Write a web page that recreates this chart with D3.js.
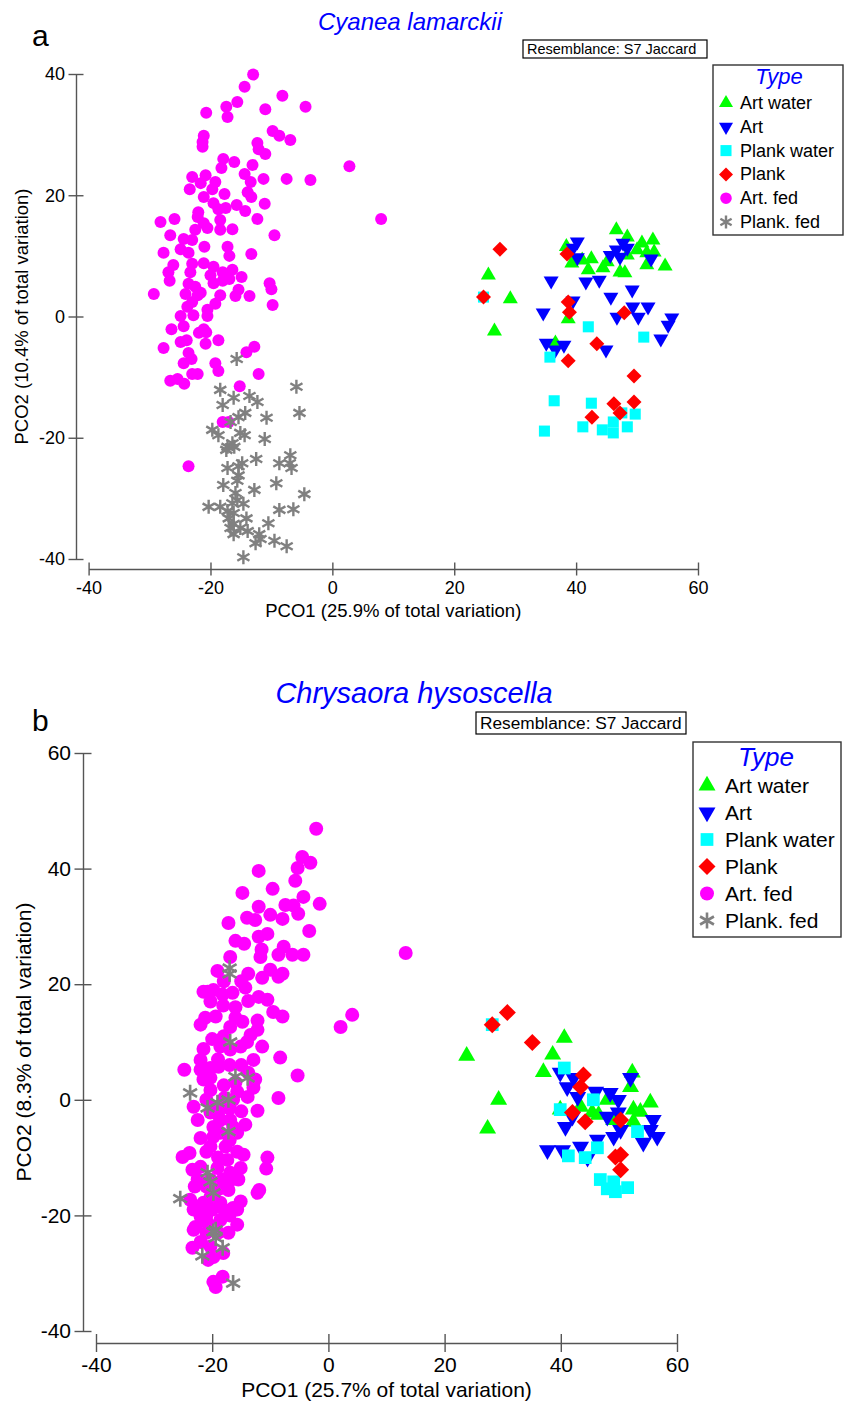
<!DOCTYPE html>
<html>
<head>
<meta charset="utf-8">
<script src="https://cdn.jsdelivr.net/npm/d3@7"></script>
<style>
  body { margin: 0; background: #fff; }
  svg text { font-family: "Liberation Sans", Arial, sans-serif; }
</style>
</head>
<body>
<svg id="chart" width="848" height="1402"></svg>
<script>
var types = ['Art water', 'Art', 'Plank water', 'Plank', 'Art. fed', 'Plank. fed']
var typeColors = ['#00ff00', '#0000ff', '#00ffff', '#ff0000', '#ff00ff', '#808080']
var typeShapes = ['triUp', 'triDown', 'square', 'diamond', 'circle', 'star']
var xTicks = [-40, -20, 0, 20, 40, 60]
var yTicksA = [-40, -20, 0, 20, 40]
var yTicksB = [-40, -20, 0, 20, 40, 60]

// panel a: Cyanea lamarckii, [PCO1, PCO2]
var cyArtWater = [[46.6,14.3],[48.4,13.1],[50.8,12.1],[52.6,12.6],[50.0,11.0],[51.6,10.5],[38.4,11.5],[39.3,8.8],[41.0,9.3],[42.5,9.5],[42.0,7.7],[44.4,8.0],[45.1,9.0],[47.2,7.3],[48.0,7.2],[51.6,8.5],[54.6,8.3],[52.8,10.6],[48.4,10.1],[25.6,6.8],[29.2,2.9],[26.6,-2.4],[38.7,-0.4],[36.6,-4.4]]
var cyArt = [[40.2,12.3],[39.5,11.3],[40.2,9.7],[45.6,10.1],[47.2,9.8],[47.7,12.1],[48.4,11.3],[46.6,11.0],[52.3,9.5],[35.9,5.9],[41.6,5.7],[43.8,6.0],[49.2,4.4],[45.7,3.2],[39.5,2.6],[34.6,0.6],[49.3,1.6],[51.8,1.6],[46.7,-0.1],[50.2,-0.1],[55.7,-0.2],[55.1,-1.4],[53.9,-3.7],[35.1,-4.4],[38.0,-4.7],[36.6,-5.5],[44.9,-5.5]]
var cyPlankWater = [[24.8,3.2],[42.0,-1.7],[51.1,-3.4],[35.7,-6.7],[36.4,-13.9],[42.5,-14.3],[34.8,-18.9],[41.1,-18.2],[44.3,-18.7],[46.1,-19.2],[46.1,-17.4],[48.4,-18.2],[49.7,-16.1],[47.5,-15.9]]
var cyPlank = [[27.5,11.1],[24.8,3.2],[38.5,10.3],[38.7,2.4],[38.9,0.7],[47.9,0.6],[43.4,-4.5],[38.7,-7.3],[49.5,-9.8],[46.2,-14.4],[49.5,-14.1],[47.2,-15.9],[42.6,-16.6]]
var cyArtFed = [[-13.0,39.9],[-14.4,37.9],[-8.2,36.4],[-15.6,35.4],[-17.4,34.6],[-17.2,32.9],[-20.7,33.6],[-11.0,34.2],[-4.4,34.6],[-9.8,30.6],[-8.7,29.8],[-6.9,29.1],[-21.1,29.8],[-21.3,28.8],[-21.3,28.0],[-12.3,28.6],[-12.1,27.6],[-11.0,26.8],[-17.9,26.0],[-16.1,25.5],[-18.2,24.5],[-13.1,25.0],[-14.4,23.5],[2.8,24.8],[-11.3,22.7],[-7.5,22.7],[-3.6,22.5],[-23.0,23.0],[-20.8,23.3],[-19.2,22.2],[-19.7,21.0],[-23.4,21.0],[-21.6,22.0],[-13.4,22.2],[-13.9,20.5],[-13.3,19.7],[-17.7,20.2],[-21.1,19.7],[-19.5,18.7],[-15.7,18.4],[-11.1,18.6],[-14.3,17.4],[-18.7,17.7],[-17.5,17.9],[-22.0,17.2],[-22.1,16.4],[-18.4,15.9],[-12.3,16.1],[8.0,16.1],[-28.2,15.6],[-25.9,16.1],[-21.1,15.4],[-20.5,14.6],[-22.5,14.3],[-18.4,14.3],[-16.4,14.4],[-26.6,13.4],[-9.5,13.4],[-24.4,12.8],[-23.0,12.6],[-21.0,11.5],[-17.2,11.5],[-24.9,11.1],[-23.6,10.5],[-27.7,10.5],[-16.9,10.0],[-13.3,10.3],[-23.0,8.7],[-21.1,8.8],[-19.5,8.2],[-26.1,8.5],[-26.9,7.3],[-26.7,5.9],[-23.3,7.3],[-20.0,6.8],[-18.0,7.3],[-16.4,7.7],[-14.9,6.5],[-19.5,5.5],[-18.0,5.9],[-16.9,6.2],[-23.6,5.4],[-22.5,4.9],[-21.6,3.9],[-15.4,4.4],[-15.9,3.4],[-13.6,3.4],[-10.3,5.5],[-10.0,4.5],[-9.8,1.9],[-29.3,3.7],[-24.1,3.7],[-22.1,3.5],[-18.4,3.5],[-23.0,2.4],[-19.2,2.1],[-20.5,1.1],[-24.9,0.1],[-22.8,0.2],[-20.5,0.1],[-23.8,1.6],[-26.4,-2.1],[-24.4,-1.6],[-21.1,-2.1],[-21.9,-2.7],[-20.7,-2.6],[-27.7,-5.2],[-24.9,-4.2],[-23.9,-3.9],[-20.8,-4.5],[-18.7,-3.9],[-14.1,-5.9],[-12.8,-5.0],[-23.6,-6.0],[-23.1,-7.0],[-24.4,-7.7],[-19.2,-7.7],[-18.7,-9.0],[-12.1,-9.5],[-26.6,-10.6],[-25.4,-10.3],[-24.3,-11.1],[-23.0,-9.5],[-22.1,-9.5],[-15.2,-11.5],[-18.0,-17.4],[-17.0,-17.4],[-23.6,-24.7]]
var cyPlankFed = [[-15.7,-7.0],[-5.9,-11.6],[-18.4,-12.1],[-16.2,-13.4],[-13.6,-13.1],[-12.3,-14.1],[-18.0,-14.6],[-5.4,-15.9],[-14.3,-15.9],[-15.4,-16.6],[-10.8,-16.7],[-16.7,-17.4],[-19.7,-18.7],[-18.7,-19.6],[-15.1,-19.2],[-14.4,-19.6],[-11.1,-20.2],[-16.4,-20.9],[-17.2,-21.5],[-17.4,-22.0],[-16.1,-21.5],[-12.5,-23.5],[-6.9,-22.9],[-7.0,-24.2],[-8.7,-24.2],[-6.7,-25.0],[-14.8,-24.2],[-15.4,-24.7],[-17.2,-25.0],[-15.4,-26.2],[-15.6,-27.1],[-17.9,-27.8],[-12.8,-28.6],[-9.2,-27.5],[-4.6,-29.3],[-15.9,-29.1],[-15.6,-30.3],[-14.6,-30.9],[-16.4,-30.8],[-20.3,-31.4],[-18.4,-31.4],[-17.2,-32.1],[-16.2,-32.4],[-17.0,-33.3],[-14.1,-33.3],[-8.7,-31.9],[-6.4,-31.8],[-10.5,-34.1],[-16.2,-34.2],[-16.7,-34.9],[-15.1,-34.9],[-16.2,-35.9],[-13.9,-35.4],[-12.0,-35.9],[-12.6,-37.4],[-11.8,-36.7],[-9.5,-37.0],[-7.5,-37.9],[-14.6,-39.7]]

// panel b: Chrysaora hysoscella, [PCO1, PCO2]
var chArtWater = [[23.8,7.6],[29.3,0],[27.4,-5.0],[40.6,10.7],[38.6,7.8],[37.0,4.8],[52.3,4.7],[52.0,2.2],[48.0,0],[55.4,-0.5],[52.5,-1.7],[53.7,-2.1],[45.4,-2.2],[46.5,-2.6],[43.4,-1.2],[52.5,-3.8],[39.9,-1.7],[49.1,-3.5]]
var chArt = [[39.9,4.7],[41.1,2.2],[42.2,3.8],[42.9,0.5],[46.0,1.4],[48.5,1.2],[49.9,0],[48.0,-2.9],[49.9,-2.2],[52.0,3.8],[55.9,-3.5],[55.4,-5.2],[56.6,-6.4],[54.2,-7.4],[50.3,-5.2],[49.1,-6.4],[46.3,-6.9],[40.8,-4.7],[37.7,-8.7],[40.3,-8.7],[43.4,-8.1],[44.6,-10.0],[42.0,-2.9]]
var chPlankWater = [[28.2,13.0],[40.6,5.5],[45.6,0],[39.9,-1.7],[53.2,-5.5],[46.3,-8.3],[41.3,-9.7],[44.2,-10.0],[46.8,-13.8],[49.1,-14.2],[51.5,-15.2],[48.0,-15.4],[49.4,-15.9]]
var chPlank = [[30.8,15.1],[28.2,13.0],[35.1,9.9],[43.9,4.3],[43.4,2.2],[42.0,-2.2],[44.2,-3.8],[50.3,-3.5],[50.3,-9.5],[50.3,-12.1],[49.4,-9.9]]
var chArtFed = [[-2.1,46.9],[-4.5,42.0],[-3.1,41.0],[-5.3,40.1],[-12.0,39.6],[-5.7,37.9],[-9.6,36.5],[-14.8,35.8],[-4.3,35.1],[-1.5,33.9],[-7.4,33.7],[-6.0,33.6],[-12.0,33.4],[-5.2,32.2],[-14.0,31.5],[-12.6,31.1],[-7.9,31.3],[-17.2,30.6],[-3.3,29.2],[-10.5,28.7],[-12.0,28.2],[-14.5,27.0],[-11.5,26.0],[-11.7,24.7],[-7.7,26.5],[-8.6,25.1],[-6.2,25.1],[-4.3,25.1],[-16.9,24.7],[13.3,25.4],[-19.1,22.3],[-13.8,21.8],[-11.4,21.1],[-7.9,21.8],[-8.6,21.3],[-10.0,32.0],[-16.0,27.5],[-10.0,22.5],[-18.0,20.5],[-15.0,20.5],
  [-21.5,18.7],[-19.8,19.0],[-18.2,18.2],[-16.5,18.5],[-14.3,19.4],[-20.3,17.0],[-18.1,16.3],[-13.8,17.1],[-12.0,17.8],[-10.5,17.3],[-9.5,15.2],[-7.9,14.4],[-21.2,14.2],[-19.4,14.4],[-16.0,14.2],[-12.2,13.7],[-22.0,13.0],[2.1,12.6],[4.1,14.7],[-20.8,18.7],[-16.0,16.0],
  [-16.9,12.6],[-14.8,13.5],[-12.2,12.1],[-13.4,11.2],[-11.4,9.2],[-18.0,11.0],[-20.0,10.5],[-14.0,10.0],[-21.5,8.8],[-22.0,6.9],[-18.6,9.2],[-16.9,8.7],[-15.1,9.2],[-12.9,6.9],[-8.3,7.3],[-5.3,4.2],[-19.0,7.0],[-17.0,6.0],[-15.0,6.0],
  [-24.8,5.2],[-22.0,5.2],[-20.3,5.5],[-18.9,5.7],[-21.5,3.5],[-20.3,3.8],[-13.8,4.7],[-12.6,3.5],[-12.9,2.1],[-13.9,0.5],[-15.7,1.4],[-17.9,0.3],[-20.3,1.7],[-18.0,2.5],[-16.0,3.0],[-21.0,0],
  [-23.2,-1.2],[-22.5,-3.5],[-20.3,-2.2],[-19.1,-1.2],[-16.4,0],[-12.2,-1.9],[-8.6,0.3],[-19.0,-2.5],[-17.0,-1.5],[-15.0,-2.0],
  [-22.0,-6.6],[-19.8,-4.7],[-18.6,-3.5],[-16.9,-3.5],[-16.4,-4.7],[-14.3,-4.3],[-19.8,-6.4],[-18.6,-5.7],[-15.7,-5.7],[-17.0,-7.0],[-20.3,-8.1],[-17.7,-8.1],[-15.7,-9.0],[-14.6,-9.5],[-25.1,-9.9],[-23.9,-9.2],[-10.5,-10.0],[-10.7,-11.9],[-21.0,-9.0],[-19.0,-10.0],
  [-23.4,-12.1],[-22.0,-11.6],[-19.1,-11.8],[-17.4,-10.4],[-16.9,-12.6],[-15.1,-11.8],[-22.5,-13.8],[-20.3,-13.8],[-18.2,-13.8],[-15.5,-13.8],[-17.2,-15.6],[-12.2,-16.1],[-11.9,-15.6],[-21.0,-15.0],[-19.0,-15.5],[-17.0,-14.0],[-23.0,-15.0],
  [-23.8,-17.3],[-23.2,-19.0],[-21.5,-17.8],[-20.3,-16.8],[-18.6,-17.8],[-16.4,-18.7],[-15.1,-17.6],[-15.7,-19.0],[-22.5,-18.5],[-20.0,-19.0],[-18.0,-19.0],[-21.0,-20.0],[-17.0,-20.0],
  [-22.9,-22.0],[-20.8,-21.3],[-18.6,-20.8],[-17.2,-23.0],[-15.7,-21.6],[-22.0,-20.2],[-23.2,-22.5],[-21.0,-23.0],[-19.0,-23.0],
  [-23.4,-25.6],[-22.0,-24.6],[-19.8,-27.2],[-18.1,-26.5],[-20.3,-25.4],[-20.7,-27.7],[-18.2,-30.6],[-19.8,-31.5],[-19.4,-32.4]]
var chPlankFed = [[-17.0,22.8],[-17.0,21.8],[-16.9,10.0],[-16.0,4.0],[-13.9,3.8],[-23.8,1.2],[-20.8,-1.4],[-19.1,-0.5],[-17.2,0],[-17.2,-5.5],[-20.8,-12.6],[-20.3,-14.2],[-19.8,-16.1],[-25.5,-17.1],[-19.8,-22.8],[-19.4,-23.9],[-18.2,-25.6],[-21.7,-27.0],[-16.4,-31.7],[-19.4,-22.5]]

var svg = d3.select('#chart')

function markerPath(shape, s){
  var h = s * Math.sqrt(3)
  if (shape == 'triUp') return `M0,${-h*2/3}L${s},${h/3}L${-s},${h/3}Z`
  if (shape == 'triDown') return `M0,${h*2/3}L${s},${-h/3}L${-s},${-h/3}Z`
  if (shape == 'square') return `M${-s*0.85},${-s*0.85}h${s*1.7}v${s*1.7}h${-s*1.7}Z`
  if (shape == 'diamond') return `M0,${-s}L${s},0L0,${s}L${-s},0Z`
  if (shape == 'circle') return d3.symbol(d3.symbolCircle, Math.PI*s*s)()
  // asterisk: three strokes
  return d3.range(3).map(i => {
    var a = Math.PI/2 + i*Math.PI/3
    var dx = Math.cos(a)*s, dy = Math.sin(a)*s
    return `M${-dx},${-dy}L${dx},${dy}`
  }).join('')
}

function drawPanel(p){
  var g = svg.append('g')
  var x = d3.scaleLinear().domain([-40, 60]).range(p.xRange)
  var y = d3.scaleLinear().domain(p.yDomain).range(p.yRange)
  var font = 'Liberation Sans, Arial, sans-serif'

  var xAxis = g.append('g')
    .attr('transform', `translate(0,${p.xAxisY})`)
    .call(d3.axisBottom(x).tickValues(xTicks).tickFormat(d => String(d))
      .tickSize(p.xTick).tickPadding(p.xPad).tickSizeOuter(0))
  xAxis.selectAll('line').attr('y1', -p.xTick)

  var yAxis = g.append('g')
    .attr('transform', `translate(${p.yAxisX},0)`)
    .call(d3.axisLeft(y).tickValues(p.yTicks).tickFormat(d => String(d))
      .tickSize(p.yTick).tickPadding(p.yPad).tickSizeOuter(0))
  yAxis.selectAll('line').attr('x1', p.yTick)

  g.selectAll('.domain, .tick line').attr('stroke', '#555').attr('stroke-width', 1.4)
  g.selectAll('.tick text').attr('font-size', p.tickFont).attr('fill', '#000')
  xAxis.attr('font-family', font)
  yAxis.attr('font-family', font)

  // points, one layer per type
  p.data.forEach((pts, i) => {
    var star = typeShapes[i] == 'star'
    g.append('g').selectAll('path').data(pts).join('path')
      .attr('transform', d => `translate(${x(d[0])},${y(d[1])})`)
      .attr('d', markerPath(typeShapes[i], p.size[i]))
      .attr('fill', star ? 'none' : typeColors[i])
      .attr('stroke', star ? typeColors[i] : 'none')
      .attr('stroke-width', p.starWidth)
  })

  // axis titles
  g.append('text').text(p.xTitle)
    .attr('x', (p.xRange[0] + p.xRange[1])/2).attr('y', p.xTitleY)
    .attr('text-anchor', 'middle').attr('font-size', p.titleFont)
  g.append('text').text(p.yTitle)
    .attr('transform', `translate(${p.yTitleX},${(p.yRange[0] + p.yRange[1])/2}) rotate(-90)`)
    .attr('text-anchor', 'middle').attr('font-size', p.titleFont)

  // species title and panel letter
  g.append('text').text(p.species)
    .attr('x', p.speciesX).attr('y', p.speciesY)
    .attr('text-anchor', 'middle').attr('font-size', p.speciesFont)
    .attr('font-style', 'italic').attr('fill', '#0000ff')
  g.append('text').text(p.letter)
    .attr('x', 32).attr('y', p.letterY).attr('font-size', 30)

  // resemblance box
  var rb = p.resBox
  g.append('rect').attr('x', rb[0]).attr('y', rb[1]).attr('width', rb[2]).attr('height', rb[3])
    .attr('fill', '#fff').attr('stroke', '#000').attr('stroke-width', 1.2)
  g.append('text').text('Resemblance: S7 Jaccard')
    .attr('x', rb[0] + 4).attr('y', rb[4]).attr('font-size', p.resFont)

  // legend
  var lb = p.legBox
  g.append('rect').attr('x', lb[0]).attr('y', lb[1]).attr('width', lb[2]).attr('height', lb[3])
    .attr('fill', '#fff').attr('stroke', '#333').attr('stroke-width', 1.4)
  g.append('text').text('Type')
    .attr('x', p.legTypeX).attr('y', p.legTypeY).attr('text-anchor', 'middle')
    .attr('font-size', p.legTypeFont).attr('font-style', 'italic').attr('fill', '#0000ff')
  var rows = g.append('g').selectAll('g').data(types).join('g')
    .attr('transform', (d, i) => `translate(0,${p.legY0 + i*p.legStep})`)
  rows.append('path')
    .attr('transform', `translate(${p.legSymX},${-p.legSymDy})`)
    .attr('d', (d, i) => markerPath(typeShapes[i], p.legSize[i]))
    .attr('fill', (d, i) => typeShapes[i] == 'star' ? 'none' : typeColors[i])
    .attr('stroke', (d, i) => typeShapes[i] == 'star' ? typeColors[i] : 'none')
    .attr('stroke-width', p.starWidth)
  rows.append('text').text(d => d)
    .attr('x', p.legTextX).attr('font-size', p.legFont)
}

drawPanel({
  data: [cyArtWater, cyArt, cyPlankWater, cyPlank, cyArtFed, cyPlankFed],
  xRange: [88.6, 698], yDomain: [-40, 40], yRange: [559, 74], yTicks: yTicksA,
  xAxisY: 569, yAxisX: 76, xTick: 6.5, xPad: 5.5, yTick: 7.5, yPad: 3.5, tickFont: 18,
  size: [7.5, 7.5, 6.5, 7.5, 6, 7], legSize: [7, 7, 6.5, 7, 5.8, 6.5], starWidth: 2.4,
  xTitle: 'PCO1 (25.9% of total variation)', xTitleY: 617,
  yTitle: 'PCO2 (10.4% of total variation)', yTitleX: 28, titleFont: 18.5,
  species: 'Cyanea lamarckii', speciesX: 410, speciesY: 30, speciesFont: 24,
  letter: 'a', letterY: 46,
  resBox: [523, 40, 184, 18, 54], resFont: 14.5,
  legBox: [713, 65, 130, 170], legTypeX: 779, legTypeY: 84, legTypeFont: 22,
  legY0: 109, legStep: 23.8, legSymX: 726, legSymDy: 6, legTextX: 740, legFont: 18
})

drawPanel({
  data: [chArtWater, chArt, chPlankWater, chPlank, chArtFed, chPlankFed],
  xRange: [96, 677], yDomain: [-40, 60], yRange: [1331, 753], yTicks: yTicksB,
  xAxisY: 1343, yAxisX: 83, xTick: 9, xPad: 5, yTick: 8.5, yPad: 3.5, tickFont: 21,
  size: [8.5, 8.5, 7.5, 8.5, 7, 8], legSize: [8.5, 8.5, 7.5, 8.5, 7, 8], starWidth: 2.6,
  xTitle: 'PCO1 (25.7% of total variation)', xTitleY: 1397,
  yTitle: 'PCO2 (8.3% of total variation)', yTitleX: 31, titleFont: 21,
  species: 'Chrysaora hysoscella', speciesX: 414, speciesY: 703, speciesFont: 29,
  letter: 'b', letterY: 731,
  resBox: [476, 712, 210, 22, 729], resFont: 17.3,
  legBox: [693, 742, 148, 195], legTypeX: 766, legTypeY: 766, legTypeFont: 26,
  legY0: 793, legStep: 27, legSymX: 707, legSymDy: 7.5, legTextX: 725, legFont: 21
})
</script>
</body>
</html>
